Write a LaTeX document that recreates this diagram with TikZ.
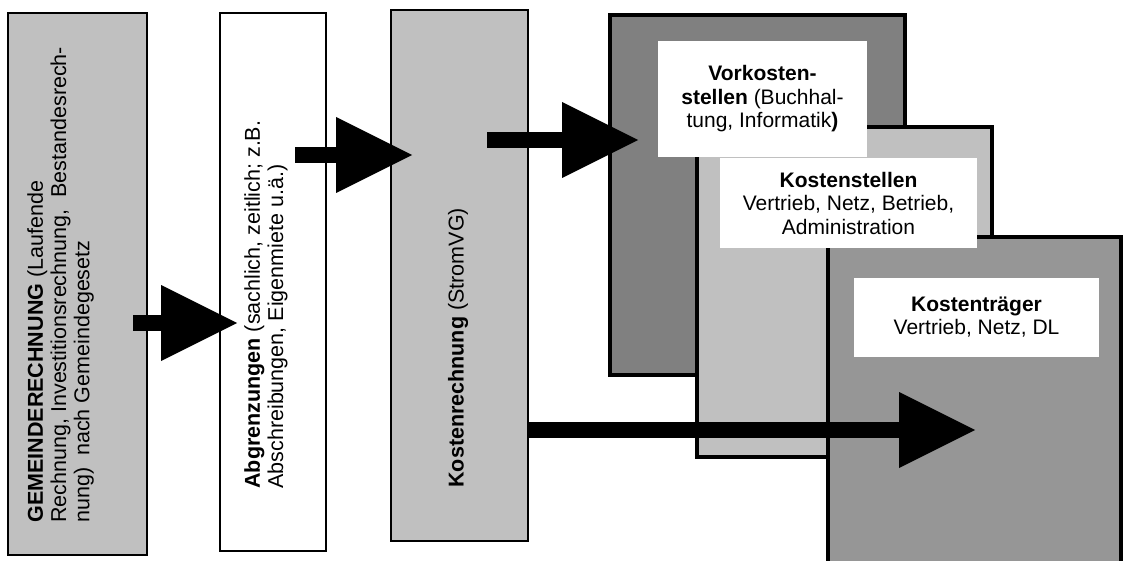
\documentclass[tikz,border=0pt]{standalone}
\usepackage{fontspec}
\setmainfont{Liberation Sans}
\usetikzlibrary{arrows.meta}
\definecolor{lightgrey}{HTML}{C0C0C0}
\definecolor{darkgrey}{HTML}{808080}
\definecolor{midgrey}{HTML}{969696}

\begin{document}
\begin{tikzpicture}[x=0.5pt, y=-0.5pt,
  thinbox/.style={draw=black, line width=0.6pt, inner sep=0pt, outer sep=0pt},
  thickbox/.style={draw=black, line width=1.75pt, inner sep=0pt, outer sep=0pt},
  whitelabel/.style={fill=white, inner sep=0pt, align=center, font=\fontsize{10.5}{11.75}\selectfont},
  sidetext/.style={rotate=90, inner sep=0pt, align=left, font=\fontsize{10.75}{11.6}\selectfont},
  bigarrow/.style={line width=8pt, -{Triangle[length=38pt, width=38pt, line width=0pt]}}
]

% one unit = one pixel of the sketch
\def\u{0.5pt}

\useasboundingbox (0,0) rectangle (1123,561);
\clip (0,0) rectangle (1123,561);

% Left column: three upright boxes
\node[thinbox, fill=lightgrey, minimum width=139*\u, minimum height=542*\u] (gemeinde) at (77.5,284) {};
\node[thinbox, fill=white, minimum width=106*\u, minimum height=538*\u] (abgrenzung) at (273,282) {};
\node[thinbox, fill=lightgrey, minimum width=137*\u, minimum height=531*\u] (kostenrechnung) at (459.5,275.5) {};

% Rotated texts
\node[sidetext, anchor=north west] (gemeindetext) at (27,523)
  {\textbf{GEMEINDERECHNUNG} (Laufende\\Rechnung, Investitionsrechnung,\ \ Bestandesrech-\\nung)\ \ nach Gemeindegesetz};
\node[sidetext, anchor=north west] (abgrenzungtext) at (244,489)
  {\textbf{Abgrenzungen} (sachlich, zeitlich; z.B.\\Abschreibungen, Eigenmiete u.ä.)};
\node[sidetext, anchor=west] (kostentext) at (458,488)
  {\textbf{Kostenrechnung} (StromVG)};

% Right: three stacked boxes
\node[thickbox, fill=darkgrey, minimum width=295*\u, minimum height=360*\u] (vorkosten) at (757.5,195) {};
\node[thickbox, fill=lightgrey, minimum width=295*\u, minimum height=330*\u] (kostenstellen) at (844.5,292) {};
\node[thickbox, fill=midgrey, minimum width=293*\u, minimum height=400*\u] (kostentraeger) at (974.5,437) {};

% White labels on top
\node[whitelabel, minimum width=209*\u, minimum height=116*\u] (vorlabel) at (762.5,99)
  {\textbf{Vorkosten-}\\\textbf{stellen} (Buchhal-\\tung, Informatik\textbf{)}};
\node[whitelabel, minimum width=257*\u, minimum height=90*\u] (stellenlabel) at (848.5,203)
  {\textbf{Kostenstellen}\\Vertrieb, Netz, Betrieb,\\Administration};
\node[whitelabel, minimum width=245*\u, minimum height=79*\u] (traegerlabel) at (976.5,317)
  {\textbf{Kostenträger}\\Vertrieb, Netz, DL};

% Arrow ends
\coordinate (g1) at (133,323);
\coordinate (a1) at (237,323);
\coordinate (a2) at (295,155);
\coordinate (k2) at (412,155);
\coordinate (k3) at (487,140);
\coordinate (v3) at (638,140);
\coordinate (k4) at (528,430);
\coordinate (t4) at (975,430);

% Block arrows
\draw[bigarrow] (g1) -- (a1);
\draw[bigarrow] (a2) -- (k2);
\draw[bigarrow] (k3) -- (v3);
\draw[bigarrow] (k4) -- (t4);

\end{tikzpicture}
\end{document}
